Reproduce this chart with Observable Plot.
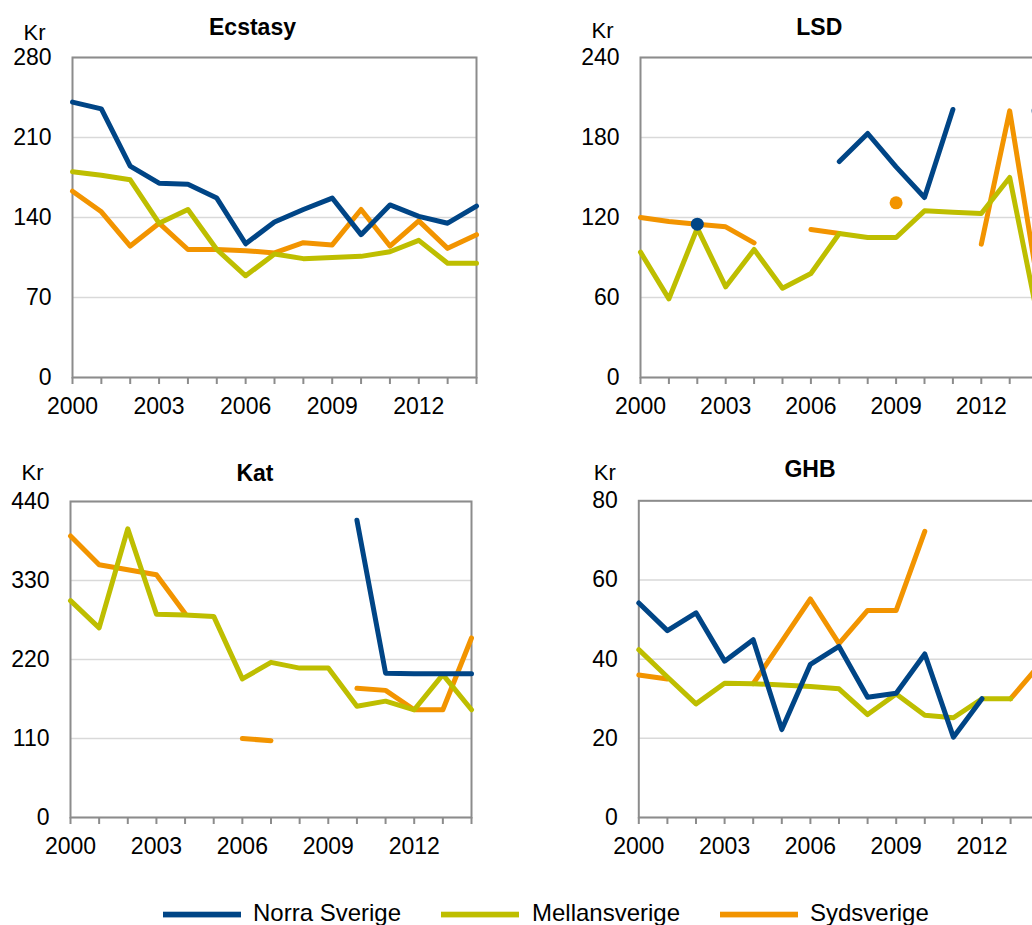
<!DOCTYPE html>
<html><head><meta charset="utf-8">
<script src="https://cdn.jsdelivr.net/npm/d3@7"></script>
<script src="https://cdn.jsdelivr.net/npm/@observablehq/plot@0.6"></script>
<style>
body{margin:0;background:#fff;}
#wrap{position:relative;width:1032px;height:925px;overflow:hidden;font-family:"Liberation Sans",Arial,sans-serif;}
.panel{position:absolute;}
</style></head><body><div id="wrap"></div>
<script>
// ---- data ----
const years = [2000,2001,2002,2003,2004,2005,2006,2007,2008,2009,2010,2011,2012,2013,2014];
const yearLabels = [2000,2003,2006,2009,2012];
const regions = ["Norra Sverige","Mellansverige","Sydsverige"];
const regionColors = ["#004586","#bebe00","#f29400"];

const ecstasyNorra  = [241,235,185,170,169,157,117,136,147,157,125,151,141,135,150];
const ecstasyMellan = [180,177,173,135,147,112,89,108,104,105,106,110,120,100,100];
const ecstasySyd    = [163,145,115,135,112,112,111,109,118,116,147,115,137,113,125];
const ecstasyTicks  = [0,70,140,210,280];

const lsdNorra  = [null,null,115,null,null,null,null,162,183,158,135,201,null,null,200];
const lsdMellan = [94,59,112,68,96,67,78,108,105,105,125,124,123,150,44];
const lsdSyd    = [120,117,115,113,101,null,111,108,null,131,null,null,100,200,69];
const lsdTicks  = [0,60,120,180,240];

const katNorra  = [null,null,null,null,null,null,null,null,null,null,414,201,200,200,200];
const katMellan = [302,264,402,283,282,280,193,216,208,208,155,162,150,199,150];
const katSyd    = [392,352,345,338,284,null,110,107,null,null,180,177,150,150,250];
const katTicks  = [0,110,220,330,440];

const ghbNorra  = [54.2,47.2,51.7,39.5,44.9,22.2,38.7,43.2,30.4,31.4,41.3,20.3,30,null,30];
const ghbMellan = [42.4,35.5,28.7,33.9,33.8,33.5,33.1,32.5,26,31.2,25.8,25.2,30,30,null];
const ghbSyd    = [36,35,null,null,33.8,44.5,55.2,43.9,52.3,52.3,72.3,null,null,30,38.5];
const ghbTicks  = [0,20,40,60,80];

const font = "'Liberation Sans', Arial, sans-serif";
const wrap = document.getElementById("wrap");

function panel(cfg) {
  const series = [["Sydsverige", cfg.syd], ["Mellansverige", cfg.mellan], ["Norra Sverige", cfg.norra]];
  const rows = [], lone = [];
  for (const [name, vals] of series) {
    vals.forEach((v, i) => {
      const val = v == null ? NaN : v;
      rows.push({region: name, year: years[i], value: val});
      if (v != null && (i === 0 || vals[i-1] == null) && (i === vals.length-1 || vals[i+1] == null))
        lone.push({region: name, year: years[i], value: v});
    });
  }
  const p = Plot.plot({
    width: cfg.width, height: cfg.height,
    marginLeft: cfg.mL, marginRight: cfg.mR, marginTop: cfg.mT, marginBottom: cfg.mB,
    style: {fontFamily: font, fontSize: "23px", background: "transparent", overflow: "visible", color: "#000"},
    x: {domain: [2000, 2014], axis: null},
    y: {domain: [cfg.ticks[0], cfg.ticks[cfg.ticks.length-1]], axis: null},
    color: {domain: regions, range: regionColors},
    marks: [
      Plot.gridY(cfg.ticks, {stroke: "#d9d9d9", strokeOpacity: 1, strokeWidth: 1.5}),
      Plot.frame({stroke: "#8c8c8c", strokeWidth: 2}),
      Plot.axisY(cfg.ticks, {tickSize: 0, tickPadding: 21, fill: "#000", label: null}),
      Plot.axisX(years, {tickSize: 7, tickPadding: 13, stroke: "#8c8c8c", strokeWidth: 2, fill: "#000", label: null,
        tickFormat: d => yearLabels.includes(d) ? String(d) : ""}),
      Plot.line(rows, {x: "year", y: "value", z: "region", stroke: "region", strokeWidth: 5,
        strokeLinecap: "round", strokeLinejoin: "round"}),
      Plot.dot(lone, {x: "year", y: "value", fill: "region", r: 6.5}),
      Plot.text([cfg.title], {text: d => d, frameAnchor: "top", lineAnchor: "bottom", dx: cfg.tDx, dy: cfg.tDy,
        fontWeight: "bold", fontSize: 23, fill: "#000"}),
      Plot.text(["Kr"], {text: d => d, frameAnchor: "top-left", textAnchor: "start", lineAnchor: "bottom",
        dx: cfg.kDx, dy: cfg.kDy, fontSize: 22, fill: "#000"})
    ]
  });
  p.classList.add("panel");
  p.style.left = cfg.left + "px";
  p.style.top = cfg.top + "px";
  wrap.appendChild(p);
}

panel({title: "Ecstasy", norra: ecstasyNorra, mellan: ecstasyMellan, syd: ecstasySyd, ticks: ecstasyTicks,
  left: 0, top: 0, width: 516, height: 440, mL: 72, mR: 40, mT: 57, mB: 63, tDx: -22, tDy: -23, kDx: -49, kDy: -18});
panel({title: "LSD", norra: lsdNorra, mellan: lsdMellan, syd: lsdSyd, ticks: lsdTicks,
  left: 516, top: 0, width: 560, height: 440, mL: 124, mR: 38.4, mT: 57, mB: 63, tDx: -20, tDy: -23, kDx: -49, kDy: -20});
panel({title: "Kat", norra: katNorra, mellan: katMellan, syd: katSyd, ticks: katTicks,
  left: 0, top: 440, width: 516, height: 440, mL: 70, mR: 45, mT: 61, mB: 63, tDx: -16, tDy: -21, kDx: -49, kDy: -21.5});
panel({title: "GHB", norra: ghbNorra, mellan: ghbMellan, syd: ghbSyd, ticks: ghbTicks,
  left: 516, top: 440, width: 560, height: 440, mL: 122.3, mR: 37.3, mT: 60.3, mB: 63, tDx: -29, tDy: -24, kDx: -45, kDy: -21});

// legend
const legendItems = [
  {name: regions[0], color: regionColors[0], x0: 163, tx: 253},
  {name: regions[1], color: regionColors[1], x0: 441, tx: 532},
  {name: regions[2], color: regionColors[2], x0: 720, tx: 810}
];
const lg = d3.select(wrap).append("svg").attr("width", 1032).attr("height", 45)
  .style("position", "absolute").style("left", "0px").style("top", "880px");
legendItems.forEach(it => {
  lg.append("rect").attr("x", it.x0).attr("y", 31.7).attr("width", 78).attr("height", 5.7).attr("fill", it.color);
  lg.append("text").attr("x", it.tx).attr("y", 41)
    .attr("font-family", font).attr("font-size", 24).attr("fill", "#000").text(it.name);
});
</script></body></html>
